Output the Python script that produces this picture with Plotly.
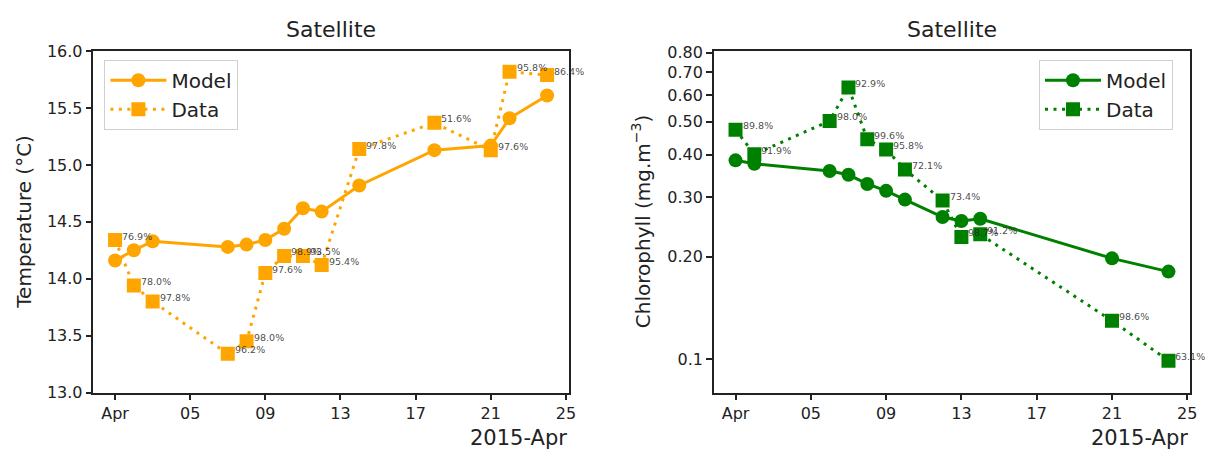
import math
import plotly.graph_objects as go

# ---------------- data ----------------
temp_model_dates = ["2015-04-01", "2015-04-02", "2015-04-03", "2015-04-07", "2015-04-08",
                    "2015-04-09", "2015-04-10", "2015-04-11", "2015-04-12", "2015-04-14",
                    "2015-04-18", "2015-04-21", "2015-04-22", "2015-04-24"]
temp_model = [14.16, 14.25, 14.33, 14.28, 14.30, 14.34, 14.44, 14.62, 14.59, 14.82,
              15.13, 15.17, 15.41, 15.61]

temp_data_dates = temp_model_dates
temp_data = [14.34, 13.94, 13.80, 13.34, 13.45, 14.05, 14.20, 14.20, 14.12, 15.14,
             15.37, 15.13, 15.82, 15.79]
temp_cover = ["76.9%", "78.0%", "97.8%", "96.2%", "98.0%", "97.6%", "98.9%", "93.5%",
              "95.4%", "97.8%", "51.6%", "97.6%", "95.8%", "86.4%"]

chl_model_dates = ["2015-04-01", "2015-04-02", "2015-04-06", "2015-04-07", "2015-04-08",
                   "2015-04-09", "2015-04-10", "2015-04-12", "2015-04-13", "2015-04-14",
                   "2015-04-21", "2015-04-24"]
chl_model = [0.385, 0.376, 0.358, 0.349, 0.328, 0.313, 0.295, 0.262, 0.255, 0.259,
             0.198, 0.181]

chl_data_dates = chl_model_dates
chl_data = [0.474, 0.401, 0.503, 0.631, 0.444, 0.414, 0.362, 0.293, 0.229, 0.233,
            0.1297, 0.0989]
chl_cover = ["89.8%", "91.9%", "98.0%", "92.9%", "99.6%", "95.8%", "72.1%", "73.4%",
             "98.7%", "91.2%", "98.6%", "63.1%"]

x_tickvals = ["2015-04-01", "2015-04-05", "2015-04-09", "2015-04-13", "2015-04-17",
              "2015-04-21", "2015-04-25"]
x_ticktext = ["Apr", "05", "09", "13", "17", "21", "25"]
x_range = ["2015-03-30 20:24", "2015-04-25 03:36"]

temp_ticks = [13.0, 13.5, 14.0, 14.5, 15.0, 15.5, 16.0]
chl_tickvals = [0.1, 0.2, 0.3, 0.4, 0.5, 0.6, 0.7, 0.8]
chl_ticktext = ["0.1", "0.20", "0.30", "0.40", "0.50", "0.60", "0.70", "0.80"]

ORANGE = "#FFA500"
GREEN = "#008000"
FONT = "DejaVu Sans"
W, H = 1218, 461

fig = go.Figure()

# ---- left panel: temperature ----
fig.add_trace(go.Scatter(x=temp_model_dates, y=temp_model, mode="lines+markers", name="Model",
                         line=dict(color=ORANGE, width=3),
                         marker=dict(symbol="circle", size=14, color=ORANGE),
                         xaxis="x", yaxis="y", legend="legend", legendgroup="a"))
fig.add_trace(go.Scatter(x=temp_data_dates, y=temp_data, mode="lines+markers", name="Data",
                         line=dict(color=ORANGE, width=3, dash="3px,5.5px"),
                         marker=dict(symbol="square", size=14, color=ORANGE),
                         xaxis="x", yaxis="y", legend="legend", legendgroup="b"))

# ---- right panel: chlorophyll ----
fig.add_trace(go.Scatter(x=chl_model_dates, y=chl_model, mode="lines+markers", name="Model",
                         line=dict(color=GREEN, width=3),
                         marker=dict(symbol="circle", size=14, color=GREEN),
                         xaxis="x2", yaxis="y2", legend="legend2", legendgroup="c"))
fig.add_trace(go.Scatter(x=chl_data_dates, y=chl_data, mode="lines+markers", name="Data",
                         line=dict(color=GREEN, width=3, dash="3px,5.5px"),
                         marker=dict(symbol="square", size=14, color=GREEN),
                         xaxis="x2", yaxis="y2", legend="legend2", legendgroup="d"))

annotations = []
lab_font = dict(family=FONT, size=9.5, color="rgba(40,40,40,0.85)")
for d, v, t in zip(temp_data_dates, temp_data, temp_cover):
    annotations.append(dict(x=d, y=v, xref="x", yref="y", text=t, showarrow=False,
                            xanchor="left", yanchor="middle", xshift=5, yshift=4, font=lab_font))
for d, v, t in zip(chl_data_dates, chl_data, chl_cover):
    annotations.append(dict(x=d, y=math.log10(v), xref="x2", yref="y2", text=t, showarrow=False,
                            xanchor="left", yanchor="middle", xshift=5, yshift=4, font=lab_font))

left_dom = [94 / W, 572 / W]
right_dom = [718 / W, 1197 / W]
y_dom = [1 - 400 / H, 1 - 44 / H]

title_font = dict(family=FONT, size=22, color="#222")
for dom in (left_dom, right_dom):
    annotations.append(dict(x=(dom[0] + dom[1]) / 2, y=1 - 21 / H, xref="paper", yref="paper",
                            text="Satellite", showarrow=False, xanchor="center", yanchor="middle",
                            font=title_font))
    annotations.append(dict(x=dom[1], y=1 - 447 / H, xref="paper", yref="paper",
                            text="2015-Apr", showarrow=False, xanchor="right", yanchor="middle",
                            font=dict(family=FONT, size=21, color="#222")))

annotations.append(dict(x=24 / W, y=(y_dom[0] + y_dom[1]) / 2, xref="paper", yref="paper",
                        text="Temperature (°C)", textangle=-90, showarrow=False,
                        xanchor="center", yanchor="middle", font=dict(family=FONT, size=20, color="#222")))
annotations.append(dict(x=645 / W, y=(y_dom[0] + y_dom[1]) / 2, xref="paper", yref="paper",
                        text="Chlorophyll (mg.m<sup>−3</sup>)", textangle=-90, showarrow=False,
                        xanchor="center", yanchor="middle", font=dict(family=FONT, size=20, color="#222")))

tick_font = dict(family=FONT, size=16, color="#222")
axis_common = dict(showline=True, linecolor="#222", linewidth=1.5, mirror=True,
                   ticks="outside", ticklen=6, tickwidth=1.5, tickcolor="#222",
                   showgrid=False, zeroline=False, tickfont=tick_font)

legend_common = dict(font=dict(family=FONT, size=20, color="#222"), bgcolor="rgba(255,255,255,0.8)",
                     bordercolor="#d0d0d0", borderwidth=1, xanchor="left", yanchor="top",
                     tracegroupgap=0, itemwidth=56, traceorder="grouped")

fig.update_layout(
    width=W, height=H, margin=dict(l=0, r=0, t=0, b=0),
    paper_bgcolor="white", plot_bgcolor="white",
    xaxis=dict(domain=left_dom, anchor="y", type="date", range=x_range,
               tickvals=x_tickvals, ticktext=x_ticktext, **axis_common),
    yaxis=dict(domain=y_dom, anchor="x", range=[13.0, 16.0], tickvals=temp_ticks,
               tickformat=".1f", **axis_common),
    xaxis2=dict(domain=right_dom, anchor="y2", type="date", range=x_range,
                tickvals=x_tickvals, ticktext=x_ticktext, **axis_common),
    yaxis2=dict(domain=y_dom, anchor="x2", type="log", range=[-1.0986, -0.093],
                tickvals=chl_tickvals, ticktext=chl_ticktext, **axis_common),
    legend=dict(x=105 / W, y=1 - 53 / H, **legend_common),
    legend2=dict(x=1045 / W, y=1 - 53 / H, **legend_common),
    annotations=annotations,
    showlegend=True,
)

post = ("document.documentElement.style.margin='0px';"
        "document.documentElement.style.overflow='hidden';"
        "document.body.style.margin='0px';"
        "document.body.style.overflow='hidden';")

fig.write_html("out.html", config={"displayModeBar": False}, post_script=post)
